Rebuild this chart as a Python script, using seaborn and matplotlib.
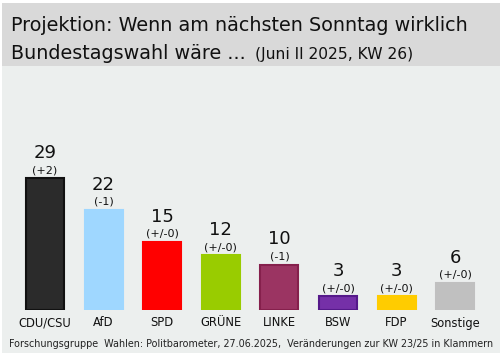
import matplotlib
matplotlib.use('Agg')
import matplotlib.pyplot as plt
from matplotlib.patches import Rectangle
import seaborn as sns
import pandas as pd

# Daten (Projektion, Politbarometer Juni II 2025)
parteien = ['CDU/CSU', 'AfD', 'SPD', 'GRÜNE', 'LINKE', 'BSW', 'FDP', 'Sonstige']
werte = [29, 22, 15, 12, 10, 3, 3, 6]
aenderung = ['(+2)', '(-1)', '(+/-0)', '(+/-0)', '(-1)', '(+/-0)', '(+/-0)', '(+/-0)']
farben = ['#2b2b2b', '#9fd7ff', '#ff0000', '#99cc00', '#9b3462', '#7530a8', '#ffcc00', '#c0c0c0']
kanten = ['#111111', '#9fd7ff', '#ff0000', '#99cc00', '#85204c', '#55198a', '#ffcc00', '#c0c0c0']

df = pd.DataFrame({'partei': parteien, 'wert': werte})

W, H = 502, 356
fig = plt.figure(figsize=(W / 100, H / 100), dpi=100)
fig.patch.set_facecolor('white')
# Hintergrund + Titelband
fig.add_artist(Rectangle((2 / W, 1 - 353 / H), 498 / W, 287 / H, transform=fig.transFigure,
                         facecolor='#ecefee', edgecolor='none', zorder=0))
fig.add_artist(Rectangle((2 / W, 1 - 66 / H), 498 / W, 63 / H, transform=fig.transFigure,
                         facecolor='#d9d9d9', edgecolor='none', zorder=0))

sp = 58.6
left = 45 - sp / 2
ymax = 32
ax = fig.add_axes([left / W, 1 - 310 / H, 8 * sp / W, ymax * 4.55 / H])
ax.set_facecolor('none')
sns.barplot(data=df, x='partei', y='wert', hue='partei', palette=farben, legend=False,
            width=0.65, ax=ax, saturation=1)
for bar, ec in zip(ax.patches, kanten):
    bar.set_edgecolor(ec)
    bar.set_linewidth(1.5)
ax.set_ylim(0, ymax)
ax.set_xlim(-0.5, 7.5)
ax.axis('off')

for i, (w, a) in enumerate(zip(werte, aenderung)):
    ax.annotate(str(w), (i, w), xytext=(0, 25), textcoords='offset pixels',
                ha='center', va='center', fontsize=13, color='#111111', annotation_clip=False)
    ax.annotate(a, (i, w), xytext=(0, 8), textcoords='offset pixels',
                ha='center', va='center', fontsize=8, color='#111111', annotation_clip=False)
    ax.annotate(parteien[i], (i, 0), xytext=(0, -13), textcoords='offset pixels',
                ha='center', va='center', fontsize=8.3, color='#111111', annotation_clip=False)

fig.text(11 / W, 1 - 31 / H, 'Projektion: Wenn am nächsten Sonntag wirklich',
         fontsize=13.8, color='#111111', va='baseline')
t2 = fig.text(11 / W, 1 - 59 / H, 'Bundestagswahl wäre ...',
              fontsize=13.8, color='#111111', va='baseline')
fig.canvas.draw()
bb = t2.get_window_extent()
fig.text((bb.x1 + 9) / W, 1 - 59 / H, '(Juni II 2025, KW 26)',
         fontsize=11.2, color='#111111', va='baseline')

fig.text(251 / W, 1 - 344 / H,
         'Forschungsgruppe  Wahlen: Politbarometer, 27.06.2025,  Veränderungen zur KW 23/25 in Klammern',
         fontsize=6.9, color='#222222', ha='center', va='center')

fig.savefig('out.png', dpi=100, facecolor=fig.get_facecolor())
